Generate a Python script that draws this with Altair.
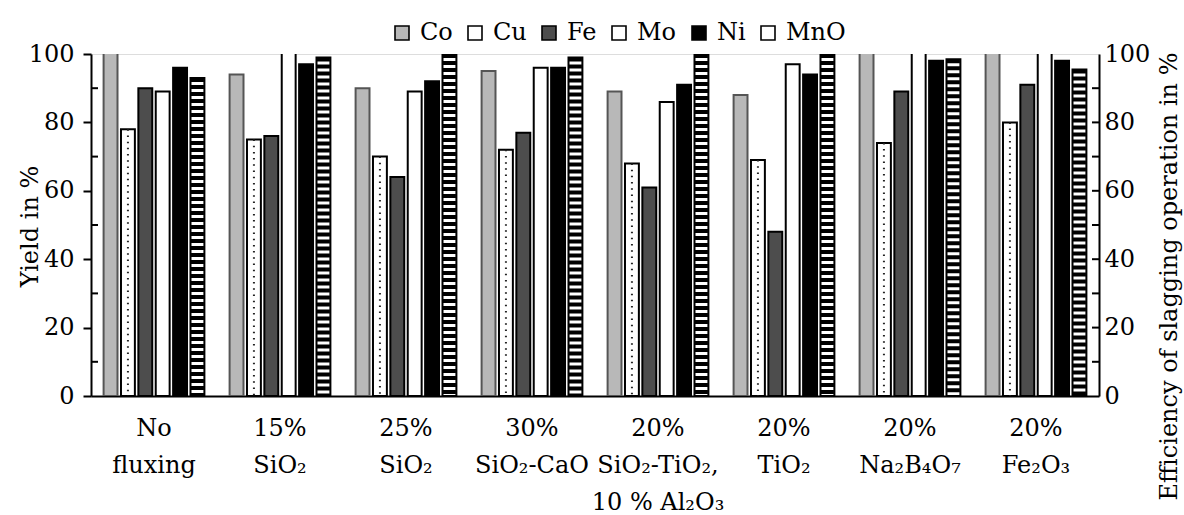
import altair as alt
import pandas as pd

groups = ["No|fluxing", "15%|SiO₂", "25%|SiO₂", "30%|SiO₂-CaO",
          "20%|SiO₂-TiO₂,|10 % Al₂O₃", "20%|TiO₂", "20%|Na₂B₄O₇", "20%|Fe₂O₃"]
series = ["Co", "Cu", "Fe", "Mo", "Ni", "MnO"]
co = [101, 94, 90, 95, 89, 88, 101, 101]
cu = [78, 75, 70, 72, 68, 69, 74, 80]
fe = [90, 76, 64, 77, 61, 48, 89, 91]
mo = [89, 101, 89, 96, 86, 97, 101, 101]
ni = [96, 97, 92, 96, 91, 94, 98, 98]
mno = [93, 99, 100, 99, 100, 100, 98.5, 95.5]
fills = ["#b8b8b8", "#ffffff", "#4d4d4d", "#ffffff", "#000000", "#ffffff"]
left_minor_ticks = [10, 30, 50, 70, 90]
right_ticks = [10, 20, 30, 40, 50, 60, 70, 80, 90]

rows = []
for i, g in enumerate(groups):
    for s, vals in zip(series, [co, cu, fe, mo, ni, mno]):
        rows.append({"group": g, "series": s, "value": vals[i]})
df = pd.DataFrame(rows)

W, H = 1008, 342
FONT = "DejaVu Serif"
FS = 24

y_scale = alt.Scale(domain=[0, 100], nice=False, zero=True)
x_enc = alt.X("group:N", sort=groups, title=None,
              scale=alt.Scale(paddingInner=0.2, paddingOuter=0.1),
              axis=alt.Axis(labelExpr="split(datum.label, '|')", labelAngle=0,
                            labelFontSize=FS, labelLineHeight=37, labelPadding=20,
                            ticks=False, domainColor="black", domainWidth=2,
                            labelColor="black", labelFont=FONT, labelBaseline="top"))
xo = alt.XOffset("series:N", sort=series,
                 scale=alt.Scale(domain=series, paddingInner=0.2, paddingOuter=0))

left_axis = alt.Axis(orient="left", values=[0, 20, 40, 60, 80, 100], tickSize=8, tickWidth=2,
                     tickColor="black", domainColor="black", domainWidth=2, labelFontSize=FS,
                     labelPadding=9, labelColor="black", grid=False, title="Yield in %",
                     titleFontSize=FS, titleFontWeight="normal", titleColor="black",
                     titleAngle=270, titleX=-61, titleY=172, titleAlign="center",
                     titleBaseline="middle", labelFont=FONT, titleFont=FONT)
right_axis = alt.Axis(orient="right", values=[0, 20, 40, 60, 80, 100], tickSize=0,
                      domainColor="black", domainWidth=2, labelFontSize=FS, labelPadding=5,
                      labelColor="black", grid=False,
                      title="Efficiency of slagging operation in %",
                      titleFontSize=FS, titleFontWeight="normal", titleColor="black",
                      titleAngle=270, titleX=70, titleY=222, titleAlign="center",
                      titleBaseline="middle", labelFont=FONT, titleFont=FONT)

bars = alt.Chart(df).mark_bar(strokeWidth=2, clip=True).encode(
    x=x_enc, xOffset=xo,
    y=alt.Y("value:Q", scale=y_scale, axis=left_axis),
    fill=alt.Fill("series:N", sort=series, scale=alt.Scale(domain=series, range=fills),
                  legend=alt.Legend(title=None, orient="none", legendX=299, legendY=-33,
                                    direction="horizontal", columns=6, symbolType="square",
                                    symbolSize=196, symbolStrokeColor="black",
                                    symbolStrokeWidth=1.6, labelFontSize=FS, labelFont=FONT,
                                    labelColor="black", columnPadding=10, labelOffset=6)),
    stroke=alt.condition("datum.series == 'Co'", alt.value("#555555"), alt.value("black")),
)

stripes = alt.Chart(df).transform_filter("datum.series == 'MnO'").mark_rule(
    color="black", strokeWidth=13, strokeDash=[4, 3], strokeCap="butt", clip=True
).encode(x=x_enc, xOffset=xo, y=alt.Y("value:Q", scale=y_scale, axis=None), y2=alt.datum(0))

dots = alt.Chart(df).transform_filter("datum.series == 'Cu'").mark_rule(
    color="#222222", strokeWidth=2, strokeDash=[1.5, 4.7], strokeCap="butt", clip=True
).encode(x=x_enc, xOffset=xo, y=alt.Y("value:Q", scale=y_scale, axis=None), y2=alt.datum(0))

lminor = alt.Chart(pd.DataFrame({"v": left_minor_ticks})).mark_rule(
    color="black", strokeWidth=2).encode(
    y=alt.Y("v:Q", scale=y_scale, axis=None), x=alt.value(0), x2=alt.value(7))

rticks = alt.Chart(pd.DataFrame({"v": right_ticks})).mark_rule(
    color="black", strokeWidth=2).encode(
    y=alt.Y("v:Q", scale=y_scale, axis=right_axis), x=alt.value(W - 7), x2=alt.value(W))

chart = alt.layer(bars, stripes, dots, lminor, rticks).resolve_axis(y="independent").properties(
    width=W, height=H,
    autosize=alt.AutoSizeParams(type="none"),
    padding={"left": 91, "top": 54, "right": 85, "bottom": 119},
).configure_view(stroke="black", strokeWidth=2).configure(font=FONT, background="white")

chart.save("out.html", embed_options={"renderer": "svg", "actions": False})
